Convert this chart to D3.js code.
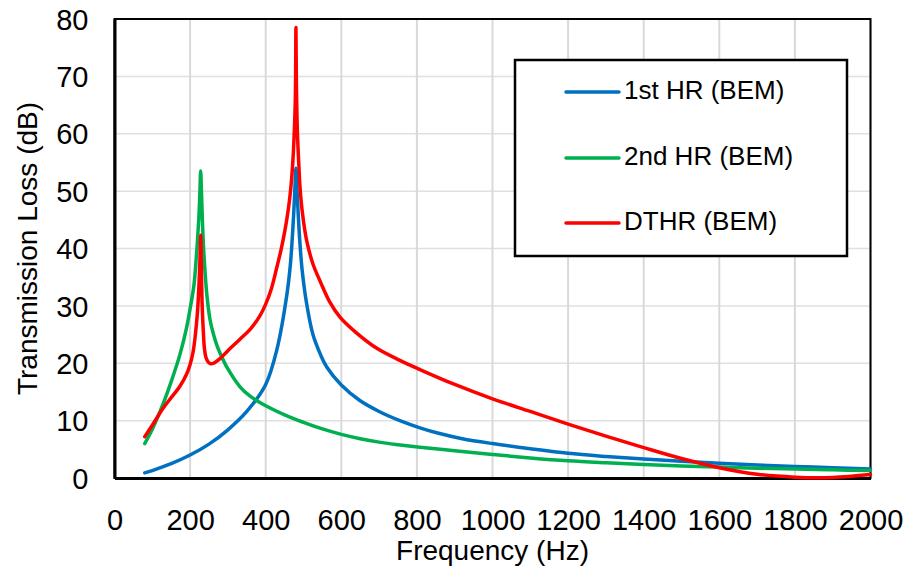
<!DOCTYPE html>
<html><head><meta charset="utf-8">
<script src="https://cdn.jsdelivr.net/npm/d3@7"></script>
<style>body{margin:0;background:#fff;} svg{display:block;}</style>
</head><body>
<svg id="chart" width="904" height="570"></svg>
<script>
const xTicks = [0,200,400,600,800,1000,1200,1400,1600,1800,2000];
const yTicks = [0,10,20,30,40,50,60,70,80];
const seriesNames = ["1st HR (BEM)","2nd HR (BEM)","DTHR (BEM)"];
const seriesColors = ["#0070c0","#00b050","#ff0000"];

const hr1Freq = [80,100,150,200,250,300,350,400,430,455,465,470,474,477,480,483,486,490,496,508,525,545,561,600,649,700,755,808,860,920,1000,1100,1200,1300,1400,1500,1600,1700,1800,1900,2000];
const hr1TL   = [0.9,1.3,2.5,4.0,5.9,8.4,11.6,16.3,22.5,31.5,37,41.5,46,50,54,50,46,41.5,36.5,30.5,25,21.5,19.4,16.2,13.5,11.6,10.0,8.75,7.75,6.85,6.0,5.1,4.3,3.75,3.3,2.9,2.55,2.25,2.0,1.8,1.55];

const hr2Freq = [80,100,129,150,173,190,200,210,217,221,224,226,228,230,232,235,240,245,253,262,270,279,300,332,358,394,450,500,550,600,650,700,750,808,900,1000,1100,1200,1300,1400,1500,1600,1700,1800,1900,2000];
const hr2TL   = [6.0,8.5,13.0,16.8,21.5,26,29.5,33.5,39,43,46.5,50,53.5,50,46,41,35.5,31.5,27.5,25,23.3,21.8,19,15.9,14.3,12.8,11.0,9.7,8.55,7.6,6.85,6.25,5.8,5.35,4.75,4.1,3.5,3.0,2.65,2.35,2.1,1.9,1.7,1.55,1.42,1.3];

const dthrFreq = [80,100,129,150,173,190,200,208,214,219,223,226,228,230,232,235,238,242,248,255,262,279,300,332,360,385,400,415,429,440,451,458,464,469,473,476,478,479,480,481,482,484,487,491,497,508,525,544,570,597,640,694,755,808,900,1000,1100,1200,1300,1400,1500,1600,1700,1800,1900,2000];
const dthrTL   = [7.2,9.2,12.2,14,16,18,19.8,22,25,28.5,33,38,42.3,36,30,25.5,22.5,21,20.2,19.9,20.0,20.8,22.2,24.2,26.0,28.3,30.3,33,36.6,39.6,43.2,46,49,52.5,56.5,61,65,69,78.5,70,65.5,60,55.5,50.5,46.3,41.5,37.3,34.3,30.6,28.0,25.3,22.6,20.5,18.9,16.3,13.8,11.6,9.4,7.3,5.3,3.4,1.8,0.65,0.15,0.1,0.6];

const series = [
  {name: seriesNames[0], color: seriesColors[0], f: hr1Freq, v: hr1TL},
  {name: seriesNames[1], color: seriesColors[1], f: hr2Freq, v: hr2TL},
  {name: seriesNames[2], color: seriesColors[2], f: dthrFreq, v: dthrTL}
];

const W = 904, H = 570;
const svg = d3.select("#chart");
const x = d3.scaleLinear().domain([0,2000]).range([114.5, 870.5]);
const y = d3.scaleLinear().domain([0,80]).range([478, 19]);
const font = "'Liberation Sans', Arial, sans-serif";

// gridlines
svg.append("g").selectAll("line").data(yTicks).join("line")
  .attr("x1", x(0)).attr("x2", x(2000))
  .attr("y1", d=>y(d)).attr("y2", d=>y(d))
  .attr("stroke", "#e0e0e0").attr("stroke-width", 1.5);
svg.append("g").selectAll("line").data(xTicks).join("line")
  .attr("x1", d=>x(d)).attr("x2", d=>x(d))
  .attr("y1", y(0)).attr("y2", y(80))
  .attr("stroke", "#d9d9d9").attr("stroke-width", 2);

// frame
svg.append("rect").attr("x", x(0)).attr("y", y(80))
  .attr("width", x(2000)-x(0)).attr("height", y(0)-y(80))
  .attr("fill","none").attr("stroke","#000").attr("stroke-width",2);

// axes
const xAxis = d3.axisBottom(x).tickValues(xTicks).tickSize(0).tickFormat(d3.format("d"));
const gx = svg.append("g").attr("transform", `translate(0,${y(0)})`).call(xAxis);
gx.select(".domain").attr("stroke","#000").attr("stroke-width",3);
gx.selectAll("text").attr("font-family", font).attr("font-size", 29).attr("fill","#000")
  .attr("y", 42).attr("dy","0.35em");

const yAxis = d3.axisLeft(y).tickValues(yTicks).tickSize(0).tickPadding(26).tickFormat(d3.format("d"));
const gy = svg.append("g").attr("transform", `translate(${x(0)},0)`).call(yAxis);
gy.select(".domain").attr("stroke","#000").attr("stroke-width",3);
gy.selectAll("text").attr("font-family", font).attr("font-size", 29).attr("fill","#000").attr("dy","0.35em");

// axis titles
svg.append("text").attr("x", (x(0)+x(2000))/2).attr("y", 553)
  .attr("text-anchor","middle").attr("dominant-baseline","middle")
  .attr("font-family", font).attr("font-size", 28).text("Frequency (Hz)");
svg.append("text").attr("transform", `translate(30,${(y(0)+y(80))/2}) rotate(-90)`)
  .attr("text-anchor","middle").attr("dominant-baseline","middle")
  .attr("font-family", font).attr("font-size", 28).text("Transmission Loss (dB)");

// lines
const line = d3.line().x(d=>x(d[0])).y(d=>y(d[1])).curve(d3.curveCatmullRom.alpha(0.5));
svg.append("g").selectAll("path").data(series).join("path")
  .attr("d", s => line(s.f.map((f,i)=>[f, s.v[i]])))
  .attr("fill","none").attr("stroke", s=>s.color).attr("stroke-width",3.5)
  .attr("stroke-linejoin","round").attr("stroke-linecap","round");

// legend
const lg = svg.append("g");
lg.append("rect").attr("x",515).attr("y",60).attr("width",332).attr("height",196)
  .attr("fill","#fff").attr("stroke","#000").attr("stroke-width",2.5);
const ly = [92,158,223];
series.forEach((s,i)=>{
  lg.append("line").attr("x1",566).attr("x2",619).attr("y1",ly[i]).attr("y2",ly[i])
    .attr("stroke",s.color).attr("stroke-width",3.5).attr("stroke-linecap","round");
  lg.append("text").attr("x",624).attr("y",ly[i]).attr("dominant-baseline","middle")
    .attr("font-family",font).attr("font-size",26).text(s.name);
});
</script>
</body></html>
